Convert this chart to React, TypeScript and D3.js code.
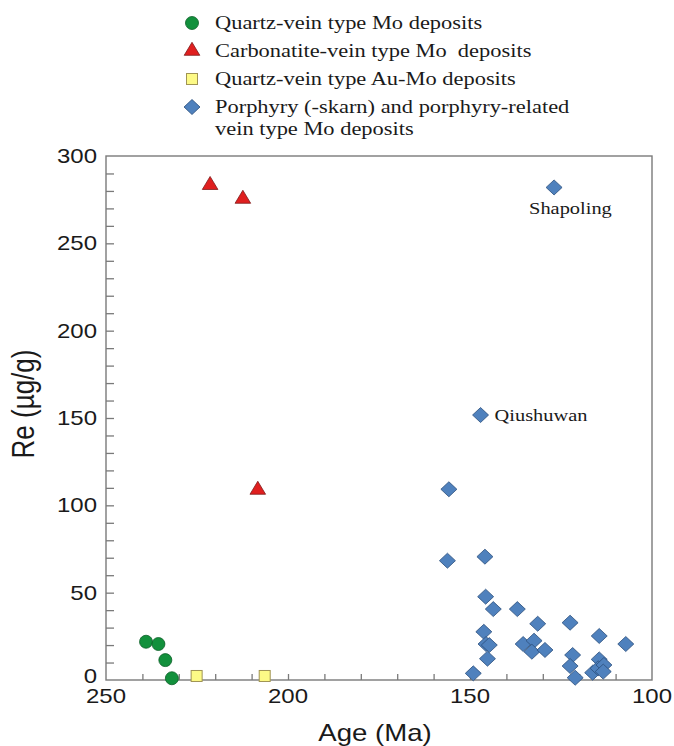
import React, { useEffect, useRef } from 'react';
import * as d3 from 'd3';

// Re (ug/g) vs age (Ma)
const quartzMo = [
  { age: 239.0, re: 21.9 },
  { age: 235.6, re: 20.6 },
  { age: 233.7, re: 11.4 },
  { age: 231.9, re: 1.0 },
];

const carbonatiteMo = [
  { age: 221.4, re: 283.3 },
  { age: 212.4, re: 275.4 },
  { age: 208.3, re: 108.8 },
];

const quartzAuMo = [
  { age: 225.1, re: 2.3 },
  { age: 206.4, re: 2.3 },
];

const porphyryMo = [
  { age: 126.9, re: 282.0 },
  { age: 147.1, re: 151.7 },
  { age: 155.8, re: 109.2 },
  { age: 156.2, re: 68.3 },
  { age: 145.9, re: 70.6 },
  { age: 145.7, re: 47.7 },
  { age: 143.6, re: 40.6 },
  { age: 137.0, re: 40.6 },
  { age: 131.4, re: 32.2 },
  { age: 122.5, re: 32.8 },
  { age: 114.5, re: 25.2 },
  { age: 107.2, re: 20.6 },
  { age: 146.2, re: 27.6 },
  { age: 145.6, re: 20.6 },
  { age: 144.7, re: 20.0 },
  { age: 145.2, re: 12.2 },
  { age: 149.1, re: 3.8 },
  { age: 135.4, re: 20.6 },
  { age: 132.4, re: 22.5 },
  { age: 133.0, re: 16.2 },
  { age: 129.4, re: 17.2 },
  { age: 121.8, re: 14.3 },
  { age: 122.5, re: 8.0 },
  { age: 121.1, re: 1.3 },
  { age: 114.5, re: 11.8 },
  { age: 116.3, re: 4.2 },
  { age: 114.8, re: 6.7 },
  { age: 113.2, re: 8.6 },
  { age: 113.4, re: 4.8 },
];

const namedDeposits = [
  { name: 'Shapoling', age: 126.9, re: 282.0 },
  { name: 'Qiushuwan', age: 147.1, re: 151.7 },
];

const xTickLabels = [250, 200, 150, 100];
const yTickLabels = [0, 50, 100, 150, 200, 250, 300];

const legendLabels = [
  ['Quartz-vein type Mo deposits'],
  ['Carbonatite-vein type Mo  deposits'],
  ['Quartz-vein type Au-Mo deposits'],
  ['Porphyry (-skarn) and porphyry-related', 'vein type Mo deposits'],
];

const SERIF = '"Liberation Serif", "Times New Roman", serif';
const SANS = '"Liberation Sans", Arial, sans-serif';
const SX = 1.2; // the original figure is stretched horizontally

const App = () => {
  const ref = useRef(null);

  useEffect(() => {
    const svg = d3.select(ref.current);
    svg.selectAll('*').remove();

    const left = 106, right = 652, top = 156, bottom = 680;

    const x = d3.scaleLinear().domain([250, 100]).range([left, right]);
    const y = d3.scaleLinear().domain([0, 300]).range([bottom, top]);

    const axisColor = '#7a7a7a';

    // frame
    svg.append('rect')
      .attr('x', left).attr('y', top)
      .attr('width', right - left).attr('height', bottom - top)
      .attr('fill', 'none')
      .attr('stroke', axisColor)
      .attr('stroke-width', 1.4);

    // inward ticks
    const xAxis = svg.append('g')
      .attr('transform', `translate(0,${bottom})`)
      .call(d3.axisBottom(x).tickValues(d3.range(240, 100, -10)).tickSizeInner(-6).tickSizeOuter(0).tickFormat(() => ''));
    const yAxis = svg.append('g')
      .attr('transform', `translate(${left},0)`)
      .call(d3.axisLeft(y).tickValues(d3.range(10, 300, 10)).tickSizeInner(-8).tickSizeOuter(0).tickFormat(() => ''));
    [xAxis, yAxis].forEach(a => {
      a.select('.domain').remove();
      a.selectAll('line').attr('stroke', axisColor).attr('stroke-width', 1.3);
    });

    const stretched = (g, tx, ty, txt, size, family, anchor) =>
      g.append('text')
        .attr('transform', `translate(${tx},${ty}) scale(${SX},1)`)
        .attr('font-family', family)
        .attr('font-size', size)
        .attr('text-anchor', anchor)
        .attr('fill', '#1a1a1a')
        .style('white-space', 'pre')
        .text(txt);

    xTickLabels.forEach(v => stretched(svg, x(v), 703, String(v), 20, SANS, 'middle'));
    // the "0" sits a little higher so it just clears the "250" below it
    yTickLabels.forEach(v => stretched(svg, 97, y(v) + (v === 0 ? 3 : 7), String(v), 20, SANS, 'end'));

    stretched(svg, (left + right) / 2 - 4, 741, 'Age (Ma)', 23, SANS, 'middle');
    svg.append('text')
      .attr('transform', `translate(34,${(top + bottom) / 2 - 14}) rotate(-90) scale(1,${SX})`)
      .attr('font-family', SANS)
      .attr('font-size', 26)
      .attr('text-anchor', 'middle')
      .attr('fill', '#1a1a1a')
      .text('Re (µg/g)');

    // marker shapes
    const drawCircle = (g, cx, cy) => g.append('circle')
      .attr('cx', cx).attr('cy', cy).attr('r', 6.5)
      .attr('fill', '#12903c').attr('stroke', '#0b5e27').attr('stroke-width', 0.8);
    const drawTriangle = (g, cx, cy) => g.append('path')
      .attr('d', `M${cx},${cy - 8.7}L${cx + 7.8},${cy + 4.3}L${cx - 7.8},${cy + 4.3}Z`)
      .attr('fill', '#e01f1f').attr('stroke', '#7d1c1c').attr('stroke-width', 0.8);
    const drawSquare = (g, cx, cy) => g.append('rect')
      .attr('x', cx - 5.5).attr('y', cy - 5.5).attr('width', 11).attr('height', 11)
      .attr('fill', '#fdfa86').attr('stroke', '#a09454').attr('stroke-width', 1);
    const drawDiamond = (g, cx, cy) => g.append('path')
      .attr('d', `M${cx},${cy - 7.5}L${cx + 8},${cy}L${cx},${cy + 7.5}L${cx - 8},${cy}Z`)
      .attr('fill', '#4f81bd').attr('stroke', '#2c4f7c').attr('stroke-width', 0.8);

    const points = svg.append('g');
    porphyryMo.forEach(d => drawDiamond(points, x(d.age), y(d.re)));
    quartzAuMo.forEach(d => drawSquare(points, x(d.age), y(d.re)));
    carbonatiteMo.forEach(d => drawTriangle(points, x(d.age), y(d.re)));
    quartzMo.forEach(d => drawCircle(points, x(d.age), y(d.re)));

    // deposit names
    const labelOffset = { Shapoling: [-25, 27], Qiushuwan: [14, 6] };
    namedDeposits.forEach(d => {
      const [dx, dy] = labelOffset[d.name];
      stretched(svg, x(d.age) + dx, y(d.re) + dy, d.name, 17, SERIF, 'start');
    });

    // legend
    const legend = svg.append('g');
    const markers = [drawCircle, drawTriangle, drawSquare, drawDiamond];
    legendLabels.forEach((lines, i) => {
      const cy = 23 + i * 28;
      markers[i](legend, 192, cy);
      lines.forEach((line, j) => stretched(legend, 215, cy + 6 + j * 22, line, 18.7, SERIF, 'start'));
    });
  }, []);

  return (
    <svg
      ref={ref}
      width={674}
      height={746}
      style={{ position: 'absolute', left: 0, top: 0, background: '#fff' }}
    />
  );
};

export default App;
